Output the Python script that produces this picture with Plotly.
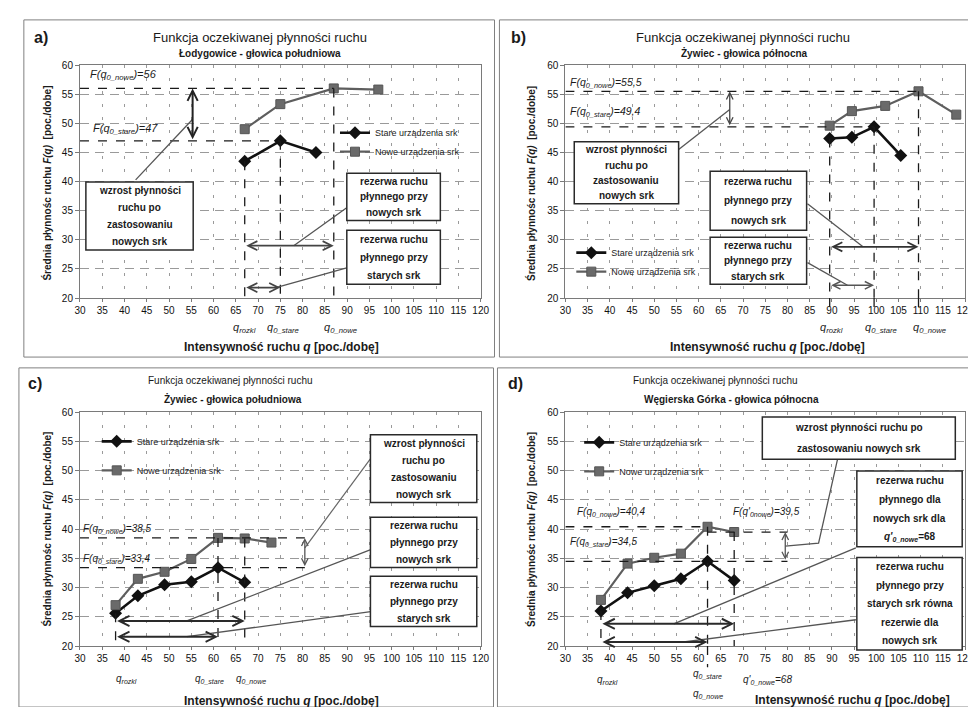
import plotly.graph_objects as go

W, H = 976, 707
FONT = "Liberation Sans, Arial, sans-serif"

# ---------------- data ----------------
x_ticks = list(range(30, 121, 5))
x_tick_labels = [str(v) for v in x_ticks]
y_ticks = list(range(20, 61, 5))
y_tick_labels = [str(v) for v in y_ticks]
series_names = ["Stare urządzenia srk", "Nowe urządzenia srk"]

# a) Łodygowice - głowica południowa
a_q_stare = [67, 75, 83]
a_F_stare = [43.5, 47.0, 45.0]
a_q_nowe = [67, 75, 87, 97]
a_F_nowe = [49.0, 53.3, 56.0, 55.8]
a_key = dict(q_rozkl=67, q0_stare=75, q0_nowe=87, F0_stare=47, F0_nowe=56)

# b) Żywiec - głowica północna
b_q_stare = [89.5, 94.5, 99.5, 105.5]
b_F_stare = [47.4, 47.6, 49.4, 44.5]
b_q_nowe = [89.5, 94.5, 102.0, 109.5, 118.0]
b_F_nowe = [49.6, 52.1, 53.0, 55.5, 51.5]
b_key = dict(q_rozkl=89.5, q0_stare=99.5, q0_nowe=109.5, F0_stare=49.4, F0_nowe=55.5)

# c) Żywiec - głowica południowa
c_q_stare = [38, 43, 49, 55, 61, 67]
c_F_stare = [25.6, 28.6, 30.5, 31.0, 33.4, 30.9]
c_q_nowe = [38, 43, 49, 55, 61, 67, 73]
c_F_nowe = [27.0, 31.5, 32.7, 34.9, 38.5, 38.4, 37.7]
c_key = dict(q_rozkl=38, q0_stare=61, q0_nowe=67, F0_stare=33.4, F0_nowe=38.5)

# d) Węgierska Górka - głowica północna
d_q_stare = [38, 44, 50, 56, 62, 68]
d_F_stare = [26.0, 29.1, 30.3, 31.5, 34.5, 31.2]
d_q_nowe = [38, 44, 50, 56, 62, 68]
d_F_nowe = [27.9, 34.1, 35.1, 35.8, 40.4, 39.5]
d_key = dict(q_rozkl=38, q0_stare=62, q0_nowe=62, q1_nowe=68, F0_stare=34.5, F0_nowe=40.4, F1_nowe=39.5)

# ---------------- helpers ----------------
shapes, annotations = [], []


def PX(x):
    return x / W


def PY(y):
    return 1 - y / H


def ptext(x, y, text, size=10, bold=False, italic=False, xanchor="center", angle=0, color="#1a1a1a"):
    t = text
    if italic:
        t = "<i>" + t + "</i>"
    if bold:
        t = "<b>" + t + "</b>"
    annotations.append(dict(xref="paper", yref="paper", x=PX(x), y=PY(y), text=t, showarrow=False,
                            xanchor=xanchor, yanchor="middle", textangle=angle,
                            font=dict(size=size, color=color, family=FONT)))


def frame(x0, y0, x1, y1, color="#808080", width=1):
    shapes.append(dict(type="rect", xref="paper", yref="paper", x0=PX(x0), x1=PX(x1), y0=PY(y1), y1=PY(y0),
                       line=dict(color=color, width=width), fillcolor="rgba(0,0,0,0)", layer="below"))


def textbox(x0, y0, x1, y1, lines, size=10):
    shapes.append(dict(type="rect", xref="paper", yref="paper", x0=PX(x0), x1=PX(x1), y0=PY(y1), y1=PY(y0),
                       line=dict(color="#2a2a2a", width=1.5), fillcolor="white", layer="above"))
    n = len(lines)
    h = (y1 - y0) / n
    for i, ln in enumerate(lines):
        ptext((x0 + x1) / 2, y0 + (i + 0.5) * h, ln, size=size, bold=True)


def dline(xr, yr, x0, y0, x1, y1, dash="dash", color="#1a1a1a", width=1.3):
    shapes.append(dict(type="line", xref=xr, yref=yr, x0=x0, y0=y0, x1=x1, y1=y1,
                       line=dict(color=color, width=width, dash=dash), layer="above"))


def vext(xr, yr, x, depth):
    shapes.append(dict(type="line", xref=xr, yref=yr + " domain", x0=x, x1=x, y0=0, y1=-depth,
                       line=dict(color="#1a1a1a", width=1.3, dash="dash"), layer="above"))


def darrow(xr, yr, x0, y0, x1, y1, color="#333333", width=1.5, size=1.0):
    annotations.append(dict(xref=xr, yref=yr, axref=xr, ayref=yr, x=x1, y=y1, ax=x0, ay=y0, text="",
                            showarrow=True, arrowhead=5, startarrowhead=5, arrowside="end+start",
                            arrowsize=size, startarrowsize=size, arrowwidth=width, arrowcolor=color,
                            standoff=0, startstandoff=0))


def dlabel(xr, yr, x, ydom, text, size=11, xanchor="center"):
    annotations.append(dict(xref=xr, yref=yr + " domain", x=x, y=ydom, text=text, showarrow=False,
                            xanchor=xanchor, yanchor="middle", font=dict(size=size, color="#1a1a1a", family=FONT)))


def Ftext(x, y, sub, val, size=10.5, prime=False):
    q = "q'" if prime else "q"
    ptext(x, y, "<i>F(" + q + "<sub>" + sub + "</sub>)=" + val + "</i>", size=size, xanchor="left")


def qlab(sub, extra=""):
    return "<i>q<sub>" + sub + "</sub></i>" + extra


# ---------------- figure ----------------
fig = go.Figure()

panels = [
    ("x", "y", "legend", a_q_stare, a_F_stare, a_q_nowe, a_F_nowe),
    ("x2", "y2", "legend2", b_q_stare, b_F_stare, b_q_nowe, b_F_nowe),
    ("x3", "y3", "legend3", c_q_stare, c_F_stare, c_q_nowe, c_F_nowe),
    ("x4", "y4", "legend4", d_q_stare, d_F_stare, d_q_nowe, d_F_nowe),
]
for k, (xr, yr, lg, qs, fs, qn, fn) in enumerate(panels):
    fig.add_trace(go.Scatter(x=qs, y=fs, mode="lines+markers", name=series_names[0], xaxis=xr, yaxis=yr,
                             legend=lg, legendgroup="s%d" % k,
                             line=dict(color="#111111", width=2.6),
                             marker=dict(symbol="diamond", size=10, color="#111111")))
    fig.add_trace(go.Scatter(x=qn, y=fn, mode="lines+markers", name=series_names[1], xaxis=xr, yaxis=yr,
                             legend=lg, legendgroup="n%d" % k,
                             line=dict(color="#5e5e5e", width=2.2),
                             marker=dict(symbol="square", size=9, color="#6a6a6a",
                                         line=dict(color="#555555", width=1))))

# axis domains in pixels
dom = {
    "": ((67, 474), (52, 289)),
    "2": ((560, 966), (52, 289)),
    "3": ((67, 474), (405, 643)),
    "4": ((560, 966), (405, 643)),
}
layout_axes = {}
for sfx, ((x0, x1), (yt, yb)) in dom.items():
    layout_axes["xaxis" + sfx] = dict(
        domain=[PX(x0), PX(x1)], anchor="y" + sfx, range=[30, 120], tickvals=x_ticks, ticktext=x_tick_labels,
        showgrid=True, gridcolor="#9a9a9a", griddash="3px,10px", gridwidth=1,
        showline=True, linecolor="#7a7a7a", linewidth=1, mirror=True, ticks="outside", ticklen=3,
        tickcolor="#7a7a7a", tickfont=dict(size=10, color="#111", family=FONT), zeroline=False, fixedrange=True)
    layout_axes["yaxis" + sfx] = dict(
        domain=[PY(yb), PY(yt)], anchor="x" + sfx, range=[20, 60], tickvals=y_ticks, ticktext=y_tick_labels,
        showgrid=True, gridcolor="#9a9a9a", griddash="9px,6px", gridwidth=1,
        showline=True, linecolor="#7a7a7a", linewidth=1, mirror=True, ticks="outside", ticklen=4,
        tickcolor="#7a7a7a", tickfont=dict(size=10, color="#111", family=FONT), zeroline=False, fixedrange=True)

# ---------- panel frames, titles, axis titles ----------
frame(10, 6, 488, 349)
frame(493, 6, 975, 349)
frame(5, 360, 487, 705)
frame(491, 360, 975, 705)

ytitle = "Średnia płynnośc ruchu <i>F(q)</i>  [poc./dobe]"
xtitle = "Intensywność ruchu <i>q</i> [poc./dobę]"
title = "Funkcja oczekiwanej płynności ruchu"

ptext(18, 24, "a)", size=16, bold=True, xanchor="left")
ptext(250, 24, title, size=13)
ptext(250, 40, "Łodygowice - głowica południowa", size=10, bold=True)
ptext(34, 172, ytitle, size=10, bold=True, angle=-90)
ptext(272, 339, xtitle, size=12, bold=True)

ptext(503, 24, "b)", size=16, bold=True, xanchor="left")
ptext(740, 24, title, size=13)
ptext(742, 40, "Żywiec - głowica północna", size=10, bold=True)
ptext(525, 172, ytitle, size=10, bold=True, angle=-90)
ptext(765, 339, xtitle, size=12, bold=True)

ptext(12, 376, "c)", size=16, bold=True, xanchor="left")
ptext(220, 373, title, size=10)
ptext(222, 392, "Żywiec - głowica południowa", size=10, bold=True)
ptext(34, 524, ytitle, size=10, bold=True, angle=-90)
ptext(272, 699, xtitle, size=12, bold=True)

ptext(500, 376, "d)", size=16, bold=True, xanchor="left")
ptext(712, 373, title, size=10)
ptext(729, 392, "Węgierska Górka - głowica północna", size=10, bold=True)
ptext(525, 524, ytitle, size=10, bold=True, angle=-90)
ptext(852, 698, xtitle, size=12, bold=True)

# ---------- panel a ----------
k = a_key
dline("x", "y", 30, k["F0_nowe"], k["q0_nowe"], k["F0_nowe"])
dline("x", "y", 30, k["F0_stare"], k["q0_stare"], k["F0_stare"])
dline("x", "y", k["q_rozkl"], a_F_stare[0], k["q_rozkl"], 20)
dline("x", "y", k["q0_stare"], k["F0_stare"], k["q0_stare"], 20)
dline("x", "y", k["q0_nowe"], k["F0_nowe"], k["q0_nowe"], 20)
darrow("x", "y", 55.3, k["F0_stare"], 55.3, k["F0_nowe"], color="#222", width=2)
darrow("x", "y", k["q_rozkl"], 29, k["q0_nowe"], 29, color="#444", width=1.8)
darrow("x", "y", k["q_rozkl"], 21.8, k["q0_stare"], 21.8, color="#444", width=1.8)
dline("x", "y", 42.5, 40.3, 55.3, 50.7, dash="solid", color="#555", width=1.3)
dline("x", "y", 89.9, 35.5, 78, 29, dash="solid", color="#555", width=1.3)
dline("x", "y", 89.9, 25.2, 74, 21.8, dash="solid", color="#555", width=1.3)
textbox(73, 171, 182, 240, ["wzrost płynności", "ruchu po", "zastosowaniu", "nowych srk"])
textbox(338, 162, 433, 210, ["rezerwa ruchu", "płynnego przy", "nowych srk"])
textbox(338, 220, 433, 275, ["rezerwa ruchu", "płynnego przy", "starych srk"])
Ftext(75, 62, "0_nowe", "56", size=11)
Ftext(78, 117, "0_stare", "47", size=11)
dlabel("x", "y", k["q_rozkl"], -0.13, qlab("rozkl"))
dlabel("x", "y", k["q0_stare"] + 0.5, -0.13, qlab("0_stare"))
dlabel("x", "y", k["q0_nowe"] + 1.5, -0.13, qlab("0_nowe"))

# ---------- panel b ----------
k = b_key
dline("x2", "y2", 30, k["F0_nowe"], k["q0_nowe"], k["F0_nowe"])
dline("x2", "y2", 30, k["F0_stare"], k["q0_stare"], k["F0_stare"])
dline("x2", "y2", k["q_rozkl"], b_F_stare[0], k["q_rozkl"], 20)
dline("x2", "y2", k["q0_stare"], k["F0_stare"], k["q0_stare"], 20)
dline("x2", "y2", k["q0_nowe"], k["F0_nowe"], k["q0_nowe"], 20)
for q in (k["q_rozkl"], k["q0_stare"], k["q0_nowe"]):
    vext("x2", "y2", q, 0.04)
darrow("x2", "y2", 67, k["F0_stare"], 67, k["F0_nowe"], color="#444", width=1.3)
darrow("x2", "y2", k["q_rozkl"], 28.8, k["q0_nowe"], 28.8, color="#333", width=1.8)
darrow("x2", "y2", k["q_rozkl"], 22.2, k["q0_stare"], 22.2, color="#555", width=1.5)
dline("x2", "y2", 55.5, 45.5, 67, 52.4, dash="solid", color="#555", width=1.3)
dline("x2", "y2", 84.5, 36.2, 97, 28.8, dash="solid", color="#555", width=1.3)
dline("x2", "y2", 84.5, 26.1, 93.5, 22.2, dash="solid", color="#555", width=1.3)
textbox(569, 130, 675, 193, ["wzrost płynności", "ruchu po", "zastosowaniu", "nowych srk"])
textbox(707, 160, 805, 220, ["rezerwa ruchu", "płynnego przy", "nowych srk"])
textbox(707, 227, 805, 275, ["rezerwa ruchu", "płynnego przy", "starych srk"])
Ftext(563, 70, "0_nowe", "55,5")
Ftext(563, 100, "0_stare", "49,4")
dlabel("x2", "y2", k["q_rozkl"] + 0.5, -0.13, qlab("rozkl"))
dlabel("x2", "y2", k["q0_stare"] + 1.5, -0.13, qlab("0_stare"))
dlabel("x2", "y2", k["q0_nowe"] + 2.5, -0.13, qlab("0_nowe"))

# ---------- panel c ----------
k = c_key
dline("x3", "y3", 30, k["F0_nowe"], 80.5, k["F0_nowe"])
dline("x3", "y3", 30, k["F0_stare"], 80.5, k["F0_stare"])
dline("x3", "y3", k["q0_stare"], k["F0_nowe"], k["q0_stare"], 20)
dline("x3", "y3", k["q0_nowe"], c_F_nowe[5], k["q0_nowe"], 20)
dline("x3", "y3", k["q_rozkl"], c_F_stare[0], k["q_rozkl"], 20.5)
darrow("x3", "y3", 80.5, k["F0_stare"], 80.5, k["F0_nowe"], color="#555", width=1.3)
darrow("x3", "y3", k["q_rozkl"], 24.3, k["q0_nowe"], 24.3, color="#2a2a2a", width=2)
darrow("x3", "y3", k["q_rozkl"], 21.6, k["q0_stare"], 21.6, color="#2a2a2a", width=2)
dline("x3", "y3", 95.3, 52.1, 80.5, 36.8, dash="solid", color="#666", width=1.2)
dline("x3", "y3", 95.3, 36.5, 54, 24.3, dash="solid", color="#555", width=1.3)
dline("x3", "y3", 95.3, 25.9, 54, 21.6, dash="solid", color="#555", width=1.3)
textbox(362, 428, 470, 497, ["wzrost płynności", "ruchu po", "zastosowaniu", "nowych srk"])
textbox(362, 512, 470, 563, ["rezerwa ruchu", "płynnego przy", "nowych srk"])
textbox(362, 572, 470, 623, ["rezerwa ruchu", "płynnego przy", "starych srk"])
Ftext(68, 524, "0_nowe", "38,5", size=10)
Ftext(68, 554, "0_stare", "33,4", size=10)
dlabel("x3", "y3", k["q_rozkl"] + 2.5, -0.14, qlab("rozkl"), size=10)
dlabel("x3", "y3", k["q0_stare"] - 2, -0.14, qlab("0_stare"), size=10)
dlabel("x3", "y3", k["q0_nowe"] + 1.5, -0.14, qlab("0_nowe"), size=10)

# ---------- panel d ----------
k = d_key
dline("x4", "y4", 30, k["F0_nowe"], k["q0_nowe"], k["F0_nowe"])
dline("x4", "y4", k["q0_nowe"], k["F1_nowe"], 80, k["F1_nowe"])
dline("x4", "y4", 30, k["F0_stare"], 80, k["F0_stare"])
dline("x4", "y4", k["q0_stare"], k["F0_nowe"], k["q0_stare"], 20)
vext("x4", "y4", k["q0_stare"], 0.09)
dline("x4", "y4", k["q1_nowe"], k["F1_nowe"], k["q1_nowe"], 20)
dline("x4", "y4", k["q_rozkl"], d_F_stare[0], k["q_rozkl"], 20.5)
darrow("x4", "y4", 79.5, k["F0_stare"], 79.5, k["F1_nowe"], color="#555", width=1.3)
darrow("x4", "y4", k["q_rozkl"], 23.8, k["q1_nowe"], 23.8, color="#2a2a2a", width=2)
darrow("x4", "y4", k["q_rozkl"], 20.7, k["q0_stare"], 20.7, color="#2a2a2a", width=2)
shapes.append(dict(type="path", xref="x4", yref="y4", path="M 79.5,37.1 L 87,37.6 L 91.4,52.4",
                   line=dict(color="#555", width=1.3), layer="above"))
dline("x4", "y4", 95.4, 36.8, 54.4, 23.8, dash="solid", color="#555", width=1.3)
dline("x4", "y4", 95.4, 24.5, 56.6, 20.7, dash="solid", color="#555", width=1.3)
textbox(760, 410, 956, 453, ["wzrost płynności ruchu po", "zastosowaniu nowych srk"])
textbox(856, 465, 963, 542, ["rezerwa ruchu", "płynnego dla", "nowych srk dla",
                             "<i>q'<sub>0_nowe</sub></i>=68"])
textbox(856, 553, 963, 647, ["rezerwa ruchu", "płynnego przy", "starych srk równa", "rezerwie dla",
                             "nowych srk"])
Ftext(570, 507, "0_nowe", "40,4", size=10)
Ftext(563, 537, "0_stare", "34,5", size=10)
Ftext(728, 507, "0nowe", "39,5", size=10, prime=True)
dlabel("x4", "y4", k["q_rozkl"] + 1.5, -0.145, qlab("rozkl"), size=10)
dlabel("x4", "y4", k["q0_stare"], -0.12, qlab("0_stare"), size=10)
dlabel("x4", "y4", k["q0_nowe"], -0.205, qlab("0_nowe"), size=10)
dlabel("x4", "y4", k["q1_nowe"] + 1.5, -0.145, "<i>q'<sub>0_nowe</sub>=" + str(k["q1_nowe"]) + "</i>",
       size=10, xanchor="left")


def legend_at(x, ytop, gap):
    return dict(x=PX(x), y=PY(ytop), xanchor="left", yanchor="top", xref="paper", yref="paper",
                font=dict(size=9, color="#222", family=FONT), bgcolor="rgba(0,0,0,0)",
                tracegroupgap=gap, itemwidth=30)


fig.update_layout(
    width=W, height=H, margin=dict(l=0, r=0, t=0, b=0),
    paper_bgcolor="white", plot_bgcolor="white",
    font=dict(family=FONT, color="#1a1a1a"),
    showlegend=True,
    legend=legend_at(326, 106, 0),
    legend2=legend_at(566, 228, 0),
    legend3=legend_at(84, 420, 10),
    legend4=legend_at(574, 421, 10),
    shapes=shapes, annotations=annotations,
    **layout_axes,
)

fig.write_html("out.html")
